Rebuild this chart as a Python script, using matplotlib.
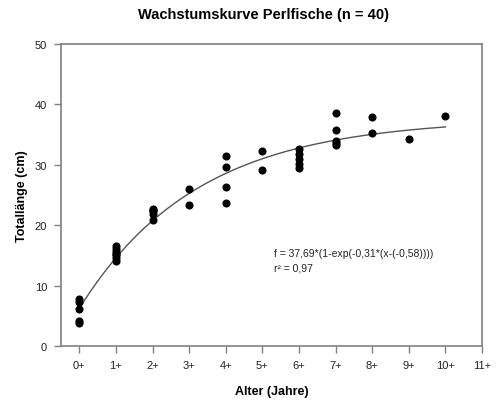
import numpy as np
import matplotlib
matplotlib.use("Agg")
import matplotlib.pyplot as plt

plt.rcParams['font.family'] = ['Liberation Sans', 'DejaVu Sans']

# Alter (Jahre) und Totallänge (cm) der 40 Perlfische
alter = [0, 0, 0, 0, 0,
         1, 1, 1, 1, 1, 1, 1,
         2, 2, 2, 2, 2,
         3, 3,
         4, 4, 4, 4,
         5, 5,
         6, 6, 6, 6, 6,
         7, 7, 7, 7, 7,
         8, 8,
         9,
         10]
laenge = [7.8, 7.3, 6.2, 4.1, 3.8,
          16.6, 16.1, 15.6, 15.3, 15.0, 14.5, 14.0,
          22.7, 22.5, 22.3, 21.9, 20.8,
          26.0, 23.4,
          31.5, 29.6, 26.3, 23.7,
          32.3, 29.2,
          32.6, 31.8, 31.0, 30.1, 29.4,
          38.5, 35.7, 34.0, 33.6, 33.3,
          37.9, 35.3,
          34.3,
          38.0]

# Parameter der von-Bertalanffy-Kurve (aus der Beschriftung)
L_inf = 37.69
k = 0.31
t0 = -0.58

x_ticks = list(range(12))
x_labels = [f"{i}+" for i in x_ticks]
y_ticks = [0, 10, 20, 30, 40, 50]

grau = '#808080'

fig = plt.figure(figsize=(4.97, 4.02), dpi=100)
ax = fig.add_axes([0.1227, 0.1368, 0.8473, 0.7512])

xs = np.linspace(0, 10, 200)
ax.plot(xs, L_inf * (1 - np.exp(-k * (xs - t0))), color='#555555', lw=1.0, zorder=2)
ax.scatter(alter, laenge, s=34, color='black', zorder=3, linewidths=0)

ax.set_xlim(-0.5, 11)
ax.set_ylim(0, 50)
ax.set_xticks(x_ticks)
ax.set_xticklabels(x_labels)
ax.set_yticks(y_ticks)

for s in ax.spines.values():
    s.set_color(grau)
    s.set_linewidth(1.2)
ax.tick_params(direction='out', length=5, width=1, color=grau,
               labelsize=8, labelcolor='#222222', pad=5)

ax.text(5.33, 15.4, "f = 37,69*(1-exp(-0,31*(x-(-0,58))))", fontsize=7.5,
        va='center', ha='left', color='#222222')
ax.text(5.33, 13.0, "r² = 0,97", fontsize=7.5, va='center', ha='left', color='#222222')

ax.set_xlabel("Alter (Jahre)", fontsize=9, fontweight='bold', labelpad=11)
ax.set_ylabel("Totallänge (cm)", fontsize=9, fontweight='bold', labelpad=5)
fig.text(0.531, 0.962, "Wachstumskurve Perlfische (n = 40)", fontsize=10.5,
         fontweight='bold', ha='center', va='center')

fig.savefig("out.png", dpi=100)
plt.close(fig)
